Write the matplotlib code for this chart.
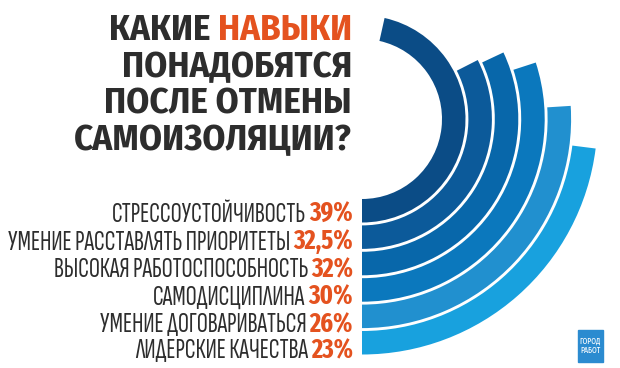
import matplotlib
matplotlib.use('Agg')
import matplotlib.pyplot as plt
from matplotlib.patches import Rectangle
import numpy as np

# data
skills = ['СТРЕССОУСТОЙЧИВОСТЬ', 'УМЕНИЕ РАССТАВЛЯТЬ ПРИОРИТЕТЫ',
          'ВЫСОКАЯ РАБОТОСПОСОБНОСТЬ', 'САМОДИСЦИПЛИНА',
          'УМЕНИЕ ДОГОВАРИВАТЬСЯ', 'ЛИДЕРСКИЕ КАЧЕСТВА']
share_labels = ['39%', '32,5%', '32%', '30%', '26%', '23%']
share = [39, 32.5, 32, 30, 26, 23]
# the original draws the first arc longer than 39% of a circle
arc_share = [46.5, 32.5, 32, 30, 26, 23]
ring_colors = ['#0b4c86', '#0c5a9a', '#0867aa', '#0b78bd', '#2190cf', '#18a1de']

title_lines = [[('КАКИЕ', '#2d2d2d'), ('НАВЫКИ', '#e4521f')],
               [('ПОНАДОБЯТСЯ', '#2d2d2d')],
               [('ПОСЛЕ ОТМЕНЫ', '#2d2d2d')],
               [('САМОИЗОЛЯЦИИ?', '#2d2d2d')]]

W, H = 620, 368
title_fam = ['Fira Sans Condensed', 'Roboto Condensed', 'PT Sans Narrow', 'DejaVu Sans']
label_fam = ['Sofia Sans Extra Condensed', 'Fira Sans Extra Condensed', 'DejaVu Sans']
pct_fam = ['Fira Sans Extra Condensed', 'Fira Sans Condensed', 'DejaVu Sans']
dark = '#2d2d2d'
orange = '#e4521f'

fig = plt.figure(figsize=(6.2, 3.68), dpi=100)
fig.patch.set_facecolor('white')

# polar axes placed so the ring centre sits left of the arcs, near the top
R = 240
cx, cy = 362, 119
ax = fig.add_axes([(cx - R) / W, (H - cy - R) / H, 2 * R / W, 2 * R / H],
                  projection='polar')
ax.set_theta_zero_location('S')
ax.set_theta_direction(1)
ax.set_ylim(0, R)
ax.axis('off')

for i, (v, c) in enumerate(zip(arc_share, ring_colors)):
    ax.bar(0, 23.5, width=v / 100 * 2 * np.pi, bottom=80 + 26.4 * i,
           align='edge', color=c, linewidth=0)

renderer = fig.canvas.get_renderer()


def right_text(x, y, parts, gap=0):
    # draw pieces right-to-left so the last one ends at x
    for s, c, w, fam, size in reversed(parts):
        t = fig.text(x / W, 1 - y / H, s, color=c, fontsize=size,
                     fontweight=w, family=fam, ha='right', va='baseline')
        x -= t.get_window_extent(renderer).width + gap


# title
title_base = [40, 77, 113, 150]
for parts, yb in zip(title_lines, title_base):
    right_text(352, yb, [(s, c, 'bold', title_fam, 26.5) for s, c in parts], gap=7)

# skill labels with shares
label_base = [222, 249.5, 277, 304.5, 332, 358]
for name, lab, yb in zip(skills, share_labels, label_base):
    right_text(353, yb, [(name, dark, 'normal', label_fam, 19.8),
                         (lab, orange, 'bold', pct_fam, 19)], gap=3)

# logo
fig.patches.append(Rectangle((578 / W, 1 - 362 / H), 25 / W, 32 / H,
                             transform=fig.transFigure, color='#2b8bd0'))
fig.text(590.5 / W, 1 - 346 / H, 'ГОРОД\nРАБОТ', color='white', fontsize=6,
         family=pct_fam, ha='center', va='center', linespacing=1.0)

fig.savefig('out.png', dpi=100)
